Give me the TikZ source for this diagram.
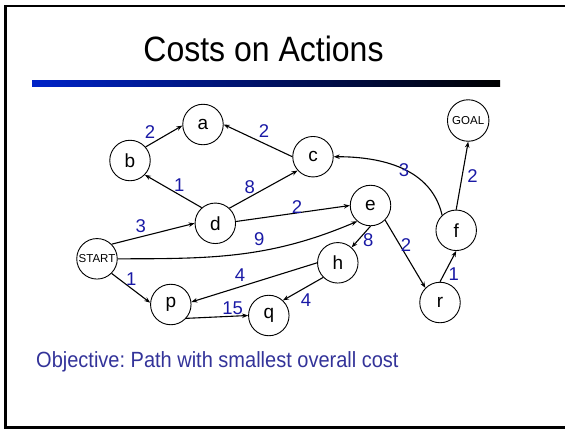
\documentclass[tikz,border=0pt]{standalone}
\usepackage{fontspec}
\usepackage{graphicx}
\setmainfont{Liberation Sans}
\usetikzlibrary{arrows.meta}
\definecolor{lblue}{RGB}{25,25,165}
\definecolor{objblue}{RGB}{51,51,153}
\definecolor{barblue}{RGB}{0,35,200}
\frenchspacing
\begin{document}
\begin{tikzpicture}[x=1pt,y=1pt,
  state/.style={circle,draw,line width=0.9pt,minimum size=40.5pt,inner sep=0pt,font=\fontsize{19}{20}\selectfont},
  smallstate/.style={state,font=\fontsize{11.5}{12}\selectfont},
  cost/.style={text=lblue,font=\fontsize{18.5}{20}\selectfont,inner sep=0pt},
  arc/.style={line width=1.1pt,-{Stealth[length=6pt,width=4.5pt]}}]
\useasboundingbox (0,0) rectangle (565,-429);
\draw[line width=2.5pt] (570,-6) -- (5.5,-6) -- (5.5,-427.7) -- (570,-427.7);
\node[font=\fontsize{32}{36}\selectfont, anchor=base, inner sep=0pt] (title) at (263.5,-61) {\scalebox{1}[1.1]{Costs on Actions}};
\shade[left color=barblue, right color=black] (32,-80) rectangle (500,-86);
% states
\node[state] (a) at (203,-124.5) {a};
\node[state] (b) at (130,-160.5) {b};
\node[state] (c) at (313,-156.7) {c};
\node[state] (d) at (215.3,-223.3) {d};
\node[state] (e) at (370.5,-205.5) {e};
\node[state] (f) at (456.2,-230.3) {f};
\node[smallstate,minimum size=41.5pt] (G) at (468.2,-120.5) {GOAL};
\node[smallstate] (S) at (97,-258.8) {START};
\node[state] (p) at (170.8,-304.5) {p};
\node[state] (q) at (268.8,-315.5) {q};
\node[state] (h) at (337.8,-262.8) {h};
\node[state] (r) at (440,-302.5) {r};
% arcs
\draw[arc] (b.41) -- (a.183);
\draw[arc] (c.west) -- (a.east);
\draw[arc] (d.131) -- (b.-44);
\draw[arc] (d.47) -- (c.222);
\draw[arc] (d.5) -- (e.180);
\draw[arc] (S.45) -- (d.180);
\draw[arc] (S.east) to[out=0,in=203] (e.230);
\draw[arc] (S.-45) -- (p.175);
\draw[arc] (e.-90) -- (h.48);
\draw[arc] (e.-45) -- (r.135);
\draw[arc] (h.180) -- (p.7);
\draw[arc] (h.225) -- (q.47);
\draw[arc] (p.-42) -- (q.180);
\draw[arc] (r.north) -- (f.south);
\draw[arc] (f.north) -- (G.south);
\draw[arc] (f.133) to[out=103,in=0,looseness=1.0] (c.east);
% costs
\node[cost] (l1) at (150,-132.2) {2};
\node[cost] (l2) at (264,-130.8) {2};
\node[cost] (l3) at (179.2,-185.5) {1};
\node[cost] (l4) at (249.7,-186.7) {8};
\node[cost] (l5) at (297,-206.7) {2};
\node[cost] (l6) at (140.7,-225.8) {3};
\node[cost] (l7) at (259.2,-239.5) {9};
\node[cost] (l8) at (368.3,-239.7) {8};
\node[cost] (l9) at (406,-245) {2};
\node[cost] (l10) at (404,-170) {3};
\node[cost] (l11) at (472.5,-175.8) {2};
\node[cost] (l12) at (453.7,-274.2) {1};
\node[cost] (l13) at (131.3,-279.5) {1};
\node[cost] (l14) at (240,-275) {4};
\node[cost] (l15) at (232.7,-308.3) {15};
\node[cost] (l16) at (306,-300.3) {4};
% objective
\node[anchor=base west, text=objblue, font=\fontsize{20}{24}\selectfont, inner sep=0pt] (obj) at (36,-367) {\scalebox{1}[1.1]{Objective: Path with smallest overall cost}};
\end{tikzpicture}
\end{document}
